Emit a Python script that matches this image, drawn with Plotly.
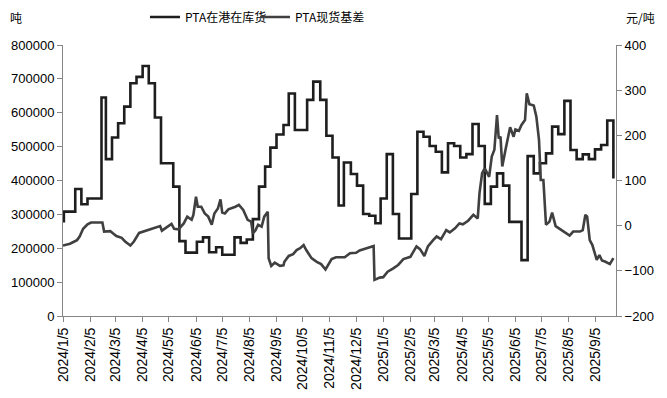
import plotly.graph_objects as go
import pandas as pd

# ---- PTA在港在库货 (weekly, left axis, 吨) ----
inv_dates = [
    "2024-01-05", "2024-01-06", "2024-01-19", "2024-01-26", "2024-02-02", "2024-02-18",
    "2024-02-23", "2024-03-01", "2024-03-08", "2024-03-15", "2024-03-22", "2024-03-29",
    "2024-04-05", "2024-04-12", "2024-04-19", "2024-04-26", "2024-05-10", "2024-05-17",
    "2024-05-24", "2024-06-06", "2024-06-13", "2024-06-20", "2024-06-28", "2024-07-05",
    "2024-07-19", "2024-07-26", "2024-08-02", "2024-08-09", "2024-08-16", "2024-08-23",
    "2024-08-29", "2024-09-05", "2024-09-13", "2024-09-19", "2024-09-26", "2024-10-10",
    "2024-10-17", "2024-10-25", "2024-11-01", "2024-11-08", "2024-11-15", "2024-11-21",
    "2024-11-29", "2024-12-06", "2024-12-13", "2024-12-20", "2024-12-27", "2025-01-02",
    "2025-01-09", "2025-01-16", "2025-01-23", "2025-02-06", "2025-02-13", "2025-02-20",
    "2025-02-27", "2025-03-06", "2025-03-13", "2025-03-20", "2025-03-27", "2025-04-03",
    "2025-04-10", "2025-04-17", "2025-04-24", "2025-05-01", "2025-05-08", "2025-05-15",
    "2025-05-22", "2025-05-29", "2025-06-12", "2025-06-19", "2025-06-26", "2025-07-03",
    "2025-07-10", "2025-07-17", "2025-07-24", "2025-07-31", "2025-08-07", "2025-08-14",
    "2025-08-21", "2025-08-28", "2025-09-04", "2025-09-11", "2025-09-18", "2025-09-25",
]
inv_values = [
    280000, 308000, 375000, 330000, 347000, 645000,
    463000, 527000, 569000, 618000, 687000, 706000,
    738000, 687000, 586000, 451000, 382000, 221000,
    187000, 219000, 232000, 188000, 203000, 181000,
    232000, 216000, 226000, 286000, 382000, 441000,
    497000, 536000, 564000, 657000, 549000, 638000,
    692000, 638000, 532000, 468000, 326000, 453000,
    419000, 385000, 301000, 296000, 274000, 347000,
    478000, 301000, 229000, 360000, 544000, 529000,
    502000, 485000, 424000, 510000, 502000, 468000,
    478000, 567000, 502000, 331000, 382000, 421000,
    385000, 278000, 165000, 472000, 421000, 451000,
    480000, 559000, 537000, 635000, 490000, 463000,
    477000, 463000, 492000, 505000, 577000, 406000,
]

# ---- PTA现货基差 (right axis, 元/吨) ----
basis_dates = [
    "2024-01-05", "2024-01-13", "2024-01-21", "2024-01-24", "2024-01-28", "2024-02-02",
    "2024-02-06", "2024-02-19", "2024-02-21", "2024-02-28", "2024-03-02", "2024-03-06",
    "2024-03-12", "2024-03-16", "2024-03-22", "2024-03-26", "2024-04-01", "2024-04-06",
    "2024-04-12", "2024-04-19", "2024-04-25", "2024-04-27", "2024-05-02", "2024-05-08",
    "2024-05-11", "2024-05-16", "2024-05-22", "2024-05-26", "2024-05-31", "2024-06-02",
    "2024-06-05", "2024-06-07", "2024-06-11", "2024-06-15", "2024-06-19", "2024-06-23",
    "2024-06-26", "2024-06-30", "2024-07-03", "2024-07-05", "2024-07-08", "2024-07-12",
    "2024-07-20", "2024-07-24", "2024-07-29", "2024-08-03", "2024-08-07", "2024-08-09",
    "2024-08-12", "2024-08-15", "2024-08-19", "2024-08-22", "2024-08-26", "2024-08-27",
    "2024-08-30", "2024-09-03", "2024-09-09", "2024-09-13", "2024-09-14", "2024-09-19",
    "2024-09-24", "2024-09-28", "2024-10-02", "2024-10-06", "2024-10-09", "2024-10-15",
    "2024-10-21", "2024-10-26", "2024-10-31", "2024-11-07", "2024-11-12", "2024-11-22",
    "2024-11-28", "2024-12-05", "2024-12-09", "2024-12-17", "2024-12-25", "2024-12-26",
    "2025-01-01", "2025-01-05", "2025-01-10", "2025-01-16", "2025-01-22", "2025-01-28",
    "2025-02-05", "2025-02-12", "2025-02-16", "2025-02-21", "2025-02-25", "2025-03-03",
    "2025-03-07", "2025-03-12", "2025-03-18", "2025-03-22", "2025-03-28", "2025-04-02",
    "2025-04-06", "2025-04-12", "2025-04-18", "2025-04-23", "2025-04-25", "2025-04-28",
    "2025-05-01", "2025-05-06", "2025-05-09", "2025-05-12", "2025-05-15", "2025-05-17",
    "2025-05-19", "2025-05-21", "2025-05-23", "2025-05-25", "2025-05-30", "2025-06-03",
    "2025-06-05", "2025-06-09", "2025-06-12", "2025-06-16", "2025-06-18", "2025-06-21",
    "2025-06-26", "2025-06-29", "2025-07-02", "2025-07-04", "2025-07-07", "2025-07-10",
    "2025-07-14", "2025-07-17", "2025-07-21", "2025-07-26", "2025-07-31", "2025-08-06",
    "2025-08-10", "2025-08-18", "2025-08-21", "2025-08-24", "2025-08-26", "2025-08-29",
    "2025-09-01", "2025-09-06", "2025-09-09", "2025-09-12", "2025-09-16", "2025-09-21",
    "2025-09-25",
]
basis_values = [
    -44, -40, -32, -24, -7, 3,
    7, 7, -13, -12, -17, -23,
    -27, -35, -44, -35, -16, -13,
    -10, -6, -1, -11, -4, 4,
    -7, -8, 5, 20, 13, 24,
    64, 42, 42, 27, 20, 2,
    27, 38, 58, 29, 27, 36,
    42, 46, 35, 13, 9, -17,
    -10, 2, -2, 20, 31, -72,
    -89, -82, -89, -88, -80, -67,
    -63, -54, -50, -43, -54, -72,
    -80, -85, -97, -74, -70, -70,
    -61, -60, -55, -50, -45, -120,
    -115, -114, -102, -95, -87, -74,
    -69, -46, -52, -67, -46, -32,
    -24, -30, -10, -15, -6, 5,
    3, 11, 24, 16, 72, 116,
    127, 108, 153, 168, 245, 193,
    197, 131, 156, 171, 218, 197,
    213, 210, 223, 234, 293, 269,
    266, 241, 190, 101, 101, 2,
    9, 29, -1, -8, -13, -22,
    -13, -13, -10, 24, 20, -32,
    -43, -76, -65, -77, -80, -85,
    -72,
]

# ---- axis ticks ----
tick_dates = [
    "2024-01-05", "2024-02-05", "2024-03-05", "2024-04-05", "2024-05-05", "2024-06-05",
    "2024-07-05", "2024-08-05", "2024-09-05", "2024-10-05", "2024-11-05", "2024-12-05",
    "2025-01-05", "2025-02-05", "2025-03-05", "2025-04-05", "2025-05-05", "2025-06-05",
    "2025-07-05", "2025-08-05", "2025-09-05",
]
tick_labels = [
    "2024/1/5", "2024/2/5", "2024/3/5", "2024/4/5", "2024/5/5", "2024/6/5",
    "2024/7/5", "2024/8/5", "2024/9/5", "2024/10/5", "2024/11/5", "2024/12/5",
    "2025/1/5", "2025/2/5", "2025/3/5", "2025/4/5", "2025/5/5", "2025/6/5",
    "2025/7/5", "2025/8/5", "2025/9/5",
]

FONT = "Liberation Sans, Arial, Noto Sans CJK SC, sans-serif"
CJK = "Noto Sans CJK SC, Liberation Sans, sans-serif"
AXIS_COLOR = "#868686"
W, H = 659, 390  # page body has an 8px margin inside the 667x398 window

fig = go.Figure()
fig.add_trace(go.Scatter(
    x=pd.to_datetime(inv_dates), y=inv_values, name="PTA在港在库货",
    mode="lines", line=dict(color="#1e1e1e", width=2.6, shape="hv"),
    legend="legend",
))
fig.add_trace(go.Scatter(
    x=pd.to_datetime(basis_dates), y=basis_values, name="PTA现货基差",
    mode="lines", line=dict(color="#404040", width=2.6), yaxis="y2",
    legend="legend2",
))

leg_common = dict(
    orientation="h", xref="container", yref="container", xanchor="left",
    y=1 - 9 / H, yanchor="middle", font=dict(family=CJK, size=12),
    itemwidth=30, bgcolor="rgba(0,0,0,0)",
)

fig.update_layout(
    width=W, height=H,
    margin=dict(l=55, r=51, t=37, b=82, autoexpand=False),
    paper_bgcolor="white", plot_bgcolor="white",
    font=dict(family=FONT, size=13, color="black"),
    showlegend=True,
    legend=dict(x=137 / W, **leg_common),
    legend2=dict(x=247 / W, **leg_common),
    xaxis=dict(
        type="date", range=["2024-01-05", "2025-09-28"], automargin=False,
        tickmode="array", tickvals=tick_dates, ticktext=tick_labels,
        tickangle=-90, ticks="outside", ticklen=5, tickcolor=AXIS_COLOR,
        showline=True, linecolor=AXIS_COLOR, linewidth=1,
        showgrid=False, zeroline=False, tickfont=dict(size=14),
    ),
    yaxis=dict(
        range=[0, 800000], dtick=100000, tickformat="d", automargin=False,
        ticks="outside", ticklen=5, tickcolor=AXIS_COLOR,
        showline=True, linecolor=AXIS_COLOR, linewidth=1,
        showgrid=False, zeroline=False, tickfont=dict(size=13),
    ),
    yaxis2=dict(
        range=[-200, 400], dtick=100, overlaying="y", side="right", automargin=False,
        ticks="outside", ticklen=5, tickcolor=AXIS_COLOR,
        showline=True, linecolor=AXIS_COLOR, linewidth=1,
        showgrid=False, zeroline=False, tickfont=dict(size=13),
    ),
    annotations=[
        dict(text="吨", xref="paper", yref="paper", x=-55 / 553, y=1.103,
             xanchor="left", yanchor="middle", showarrow=False,
             font=dict(family=CJK, size=12)),
        dict(text="元/吨", xref="paper", yref="paper", x=1.045, y=1.103,
             xanchor="center", yanchor="middle", showarrow=False,
             font=dict(family=CJK, size=12)),
    ],
)

fig.write_html("out.html")
